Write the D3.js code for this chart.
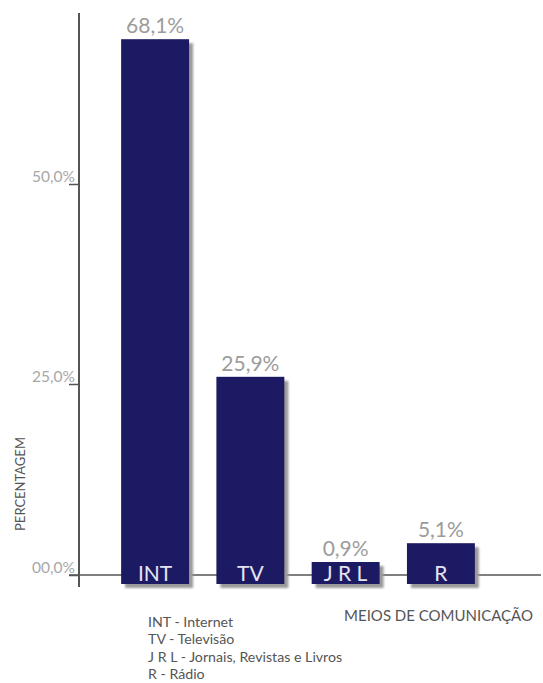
<!DOCTYPE html>
<html lang="pt">
<head>
    <meta charset="UTF-8">
    <title>Meios de comunicação</title>
    <script src="https://d3js.org/d3.v7.min.js"></script>
</head>
<body>
    <div id="svg-container"></div>
</body>
<style>
    *{
        padding: 0;
        margin: 0;
    }
    body{
        background: white;
    }
    svg text{
        font-family: "Lato", "Open Sans", sans-serif;
    }
</style>
<script>
    // data
    const categories = ["INT", "TV", "J R L", "R"];
    const values = [68.1, 25.9, 0.9, 5.1];
    const valueLabels = ["68,1%", "25,9%", "0,9%", "5,1%"];
    const tickValues = [0, 25, 50];
    const tickLabels = ["00,0%", "25,0%", "50,0%"];
    const legendLines = [
        "INT - Internet",
        "TV - Televisão",
        "J R L - Jornais, Revistas e Livros",
        "R - Rádio"
    ];

    var w = 543;
    var h = 683;
    var barColor = "#1c1a62";
    var axisColor = "#555";

    var svg = d3.select("#svg-container")
        .append("svg")
        .attr("width", w)
        .attr("height", h);

    var defs = svg.append("defs");
    defs.append("filter")
        .attr("id", "blur")
        .append("feGaussianBlur")
        .attr("stdDeviation", 1.2);

    let xScale = d3.scaleBand()
        .domain(categories)
        .range([107.5, 488.5])
        .paddingInner(0.287)
        .paddingOuter(0.143);

    let yScale = d3.scaleLinear()
        .domain([0, 50])
        .range([584, 184]);

    // baseline of the chart sits a bit above the bars' foot
    let baseY = yScale(0) - 9;
    let axisScale = d3.scaleLinear()
        .domain([0, 25, 50])
        .range([baseY, yScale(25), yScale(50)]);

    let minBar = 22;
    let barTop = v => Math.min(yScale(v), yScale(0) - minBar);

    // horizontal baseline
    svg.append("line")
        .attr("x1", 69).attr("x2", 541)
        .attr("y1", baseY).attr("y2", baseY)
        .attr("stroke", axisColor)
        .attr("stroke-width", 1.5);

    // y axis
    let yAxis = d3.axisLeft(axisScale)
        .tickValues(tickValues)
        .tickSize(10)
        .tickFormat((d, i) => tickLabels[i]);

    let gy = svg.append("g")
        .attr("transform", "translate(79,0)")
        .call(yAxis);
    gy.select(".domain").remove();
    gy.selectAll(".tick line")
        .attr("stroke", axisColor)
        .attr("stroke-width", 1.5);
    gy.selectAll(".tick text")
        .attr("x", -4)
        .attr("dy", -3)
        .attr("fill", "#a8a8a8")
        .attr("font-size", 15.5);

    svg.append("line")
        .attr("x1", 79).attr("x2", 79)
        .attr("y1", 13).attr("y2", 587)
        .attr("stroke", axisColor)
        .attr("stroke-width", 2);

    // shadows
    svg.selectAll("rect.shadow")
        .data(values)
        .enter()
        .append("rect")
        .attr("class", "shadow")
        .attr("x", (d, i) => xScale(categories[i]) + 4)
        .attr("y", d => barTop(d) + 4)
        .attr("width", xScale.bandwidth())
        .attr("height", d => yScale(0) - barTop(d))
        .attr("fill", "#9a9a9a")
        .attr("filter", "url(#blur)");

    // bars
    svg.selectAll("rect.bar")
        .data(values)
        .enter()
        .append("rect")
        .attr("class", "bar")
        .attr("x", (d, i) => xScale(categories[i]))
        .attr("y", d => barTop(d))
        .attr("width", xScale.bandwidth())
        .attr("height", d => yScale(0) - barTop(d))
        .attr("fill", barColor);

    // value labels
    svg.selectAll("text.value")
        .data(values)
        .enter()
        .append("text")
        .attr("class", "value")
        .attr("x", (d, i) => xScale(categories[i]) + xScale.bandwidth() / 2)
        .attr("y", d => barTop(d) - 6)
        .attr("text-anchor", "middle")
        .attr("font-size", 21)
        .attr("fill", "#9c9c9c")
        .text((d, i) => valueLabels[i]);

    // category labels inside the bars
    svg.selectAll("text.cat")
        .data(categories)
        .enter()
        .append("text")
        .attr("class", "cat")
        .attr("x", d => xScale(d) + xScale.bandwidth() / 2)
        .attr("y", yScale(0) - 3)
        .attr("text-anchor", "middle")
        .attr("font-size", 21)
        .attr("fill", "#e4e4f2")
        .text(d => d);

    // axis titles
    svg.append("text")
        .attr("transform", "translate(25,484) rotate(-90)")
        .attr("text-anchor", "middle")
        .attr("font-size", 13)
        .attr("fill", axisColor)
        .text("PERCENTAGEM");

    svg.append("text")
        .attr("x", 533)
        .attr("y", 621)
        .attr("text-anchor", "end")
        .attr("font-size", 15)
        .attr("fill", axisColor)
        .text("MEIOS DE COMUNICAÇÃO");

    // legend
    svg.selectAll("text.legend")
        .data(legendLines)
        .enter()
        .append("text")
        .attr("class", "legend")
        .attr("x", 148)
        .attr("y", (d, i) => 627 + i * 17.4)
        .attr("font-size", 14.2)
        .attr("fill", axisColor)
        .text(d => d);
</script>
</html>
